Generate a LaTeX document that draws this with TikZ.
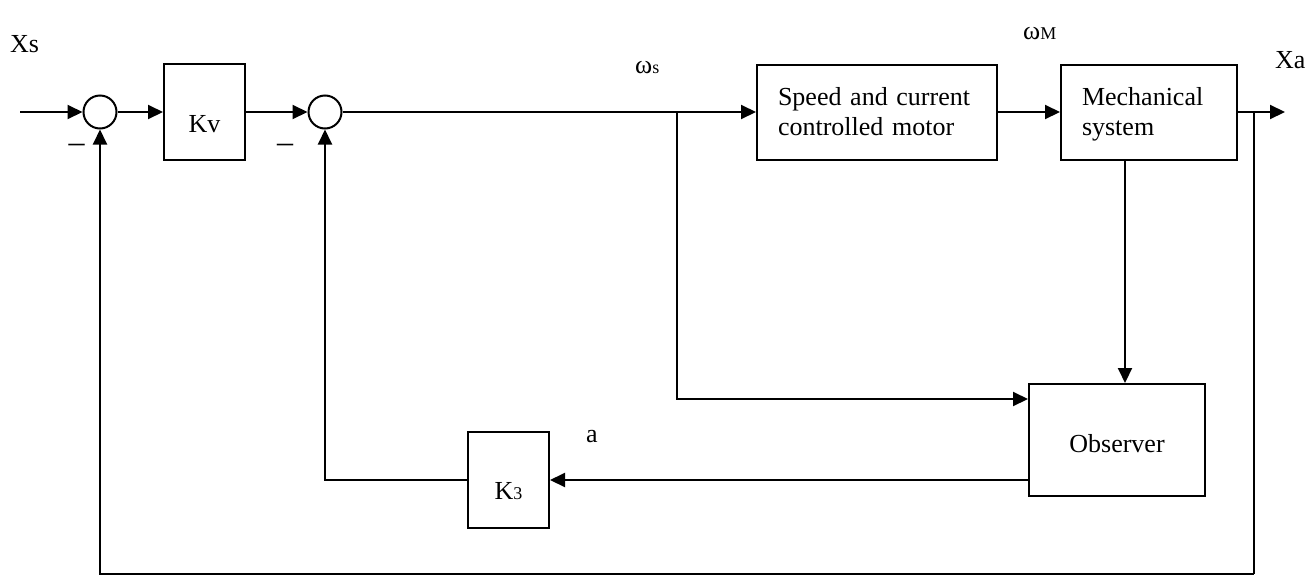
\documentclass[tikz,border=0pt]{standalone}
\usepackage{fontspec}
\setmainfont{Liberation Serif}
\usetikzlibrary{arrows.meta}
\tikzset{
  blk/.style={draw, line width=2pt, rectangle, inner sep=0pt, font=\fontsize{26}{30}\selectfont},
  sumnode/.style={draw, line width=2pt, circle, minimum size=33pt, inner sep=0pt},
  lbl/.style={inner sep=0pt, font=\fontsize{26}{30}\selectfont},
  arr/.style={line width=2pt, -{Triangle[length=15pt,width=14pt]}},
  ln/.style={line width=2pt},
}
\newcommand{\smallsub}[1]{{\fontsize{18}{18}\selectfont #1}}
\begin{document}
\begin{tikzpicture}[x=1pt,y=-1pt]
\useasboundingbox[fill=white] (0,0) rectangle (1316,576);
% blocks
\node[sumnode] (s1) at (100,112) {};
\node[blk, minimum width=81pt, minimum height=96pt, text height=40pt, text depth=0pt] (kv) at (204.5,112) {Kv};
\node[sumnode] (s2) at (325,112) {};
\node[blk, minimum width=240pt, minimum height=95pt, inner xsep=21pt, text width=198pt, align=left] (motor) at (877,112) {Speed and current\\controlled motor};
\node[blk, minimum width=176pt, minimum height=95pt, inner xsep=21pt, text width=134pt, align=left, text height=22pt] (mech) at (1149,112) {Mechanical\\system};
\node[blk, minimum width=176pt, minimum height=112pt, text height=24pt, text depth=0pt] (obs) at (1117,440) {Observer};
\node[blk, minimum width=81pt, minimum height=96pt, text height=38pt, text depth=0pt] (k3) at (508.5,480) {K\smallsub{3}};
% labels
\node[lbl, anchor=base west] (xs) at (10,52) {Xs};
\node[lbl, anchor=base west] (ws) at (635,73) {ω\smallsub{s}};
\node[lbl, anchor=base west] (wm) at (1023,39) {ω\smallsub{M}};
\node[lbl, anchor=base west] (xa) at (1275,68) {Xa};
\node[lbl, anchor=base west] (al) at (586,442) {a};
\node[lbl, font=\fontsize{32}{32}\selectfont] (m1) at (76.5,148) {–};
\node[lbl, font=\fontsize{32}{32}\selectfont] (m2) at (285,148) {–};
% coordinates
\coordinate (in) at (20,112);
\coordinate (br) at (677,112);
\coordinate (tap) at (1254,112);
\coordinate (out) at (1285,112);
\coordinate (bl) at (1254,574);
% connectors
\draw[arr] (in) -- (s1.west);
\draw[arr] (s1.east) -- (kv.west);
\draw[arr] (kv.east) -- (s2.west);
\draw[arr] (s2.east) -- (motor.west);
\draw[arr] (motor.east) -- (mech.west);
\draw[arr] (mech.east) -- (out);
\draw[ln] (tap) -- (bl);
\draw[arr] (bl) -| (s1.south);
\draw[arr] (br) |- ([yshift=-16pt]obs.north west);
\draw[arr] ([xshift=-24pt]mech.south) -- ([xshift=-24pt]mech.south |- obs.north);
\draw[arr] (k3.east -| obs.west) -- (k3.east);
\draw[arr] (k3.west) -| (s2.south);
\end{tikzpicture}
\end{document}
